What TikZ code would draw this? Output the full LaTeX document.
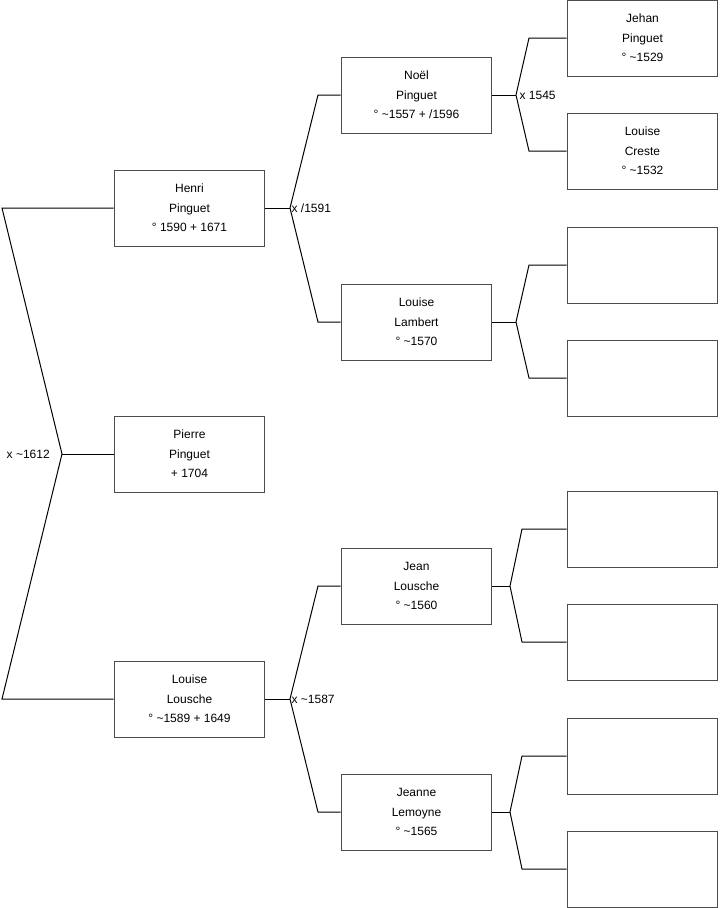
\documentclass[tikz,border=0pt]{standalone}
\usepackage{fontspec}
\setmainfont{Liberation Sans}
\usetikzlibrary{positioning}
\newcommand{\ca}{\textasciitilde}

\begin{document}
\begin{tikzpicture}[
  x=0.75pt, y=-0.75pt,
  person/.style={draw=black!70, line width=0.75pt, minimum width=113pt, minimum height=57pt,
                 inner sep=0pt, align=center, font=\fontsize{9}{14.5}\selectfont},
  lnk/.style={line width=0.75pt, black},
  mar/.style={font=\fontsize{9}{11}\selectfont, inner sep=1pt},
]
\useasboundingbox (0,0) rectangle (719,908);

% Column 1: Generation 0/1
\node[person] (henri)  at (189.5,208) {Henri\\Pinguet\\° 1590 + 1671};
\node[person] (pierre) at (189.5,454) {Pierre\\Pinguet\\+ 1704};
\node[person] (louise) at (189.5,699) {Louise\\Lousche\\° \ca1589 + 1649};

% Column 2: Grandparents
\node[person] (noel)    at (416.5,95)  {Noël\\Pinguet\\° \ca1557 + /1596};
\node[person] (lambert) at (416.5,322) {Louise\\Lambert\\° \ca1570};
\node[person] (jean)    at (416.5,586) {Jean\\Lousche\\° \ca1560};
\node[person] (jeanne)  at (416.5,812) {Jeanne\\Lemoyne\\° \ca1565};

% Column 3: Great-grandparents
\node[person] (jehan)  at (642.5,38)  {Jehan\\Pinguet\\° \ca1529};
\node[person] (creste) at (642.5,151) {Louise\\Creste\\° \ca1532};
\node[person] (g3)     at (642.5,265) {};
\node[person] (g4)     at (642.5,378) {};
\node[person] (g5)     at (642.5,529) {};
\node[person] (g6)     at (642.5,642) {};
\node[person] (g7)     at (642.5,756) {};
\node[person] (g8)     at (642.5,869) {};

% Forks
\coordinate (f0) at (62,454);  \coordinate (f0a) at (2,208);   \coordinate (f0b) at (2,699);
\coordinate (f1) at (290,208); \coordinate (f1a) at (318,95);  \coordinate (f1b) at (318,322);
\coordinate (f2) at (290,699); \coordinate (f2a) at (318,586); \coordinate (f2b) at (318,812);
\coordinate (f3) at (516,95);  \coordinate (f3a) at (529,38);  \coordinate (f3b) at (529,151);
\coordinate (f4) at (516,322); \coordinate (f4a) at (529,265); \coordinate (f4b) at (529,378);
\coordinate (f5) at (510,586); \coordinate (f5a) at (522,529); \coordinate (f5b) at (522,642);
\coordinate (f6) at (510,812); \coordinate (f6a) at (522,756); \coordinate (f6b) at (522,869);

% Links
\draw[lnk] (henri.west) -- (f0a) -- (f0) -- (f0b) -- (louise.west);
\draw[lnk] (f0) -- (pierre.west);
\draw[lnk] (henri.east) -- (f1);
\draw[lnk] (noel.west) -- (f1a) -- (f1) -- (f1b) -- (lambert.west);
\draw[lnk] (louise.east) -- (f2);
\draw[lnk] (jean.west) -- (f2a) -- (f2) -- (f2b) -- (jeanne.west);
\draw[lnk] (noel.east) -- (f3);
\draw[lnk] (jehan.west) -- (f3a) -- (f3) -- (f3b) -- (creste.west);
\draw[lnk] (lambert.east) -- (f4);
\draw[lnk] (g3.west) -- (f4a) -- (f4) -- (f4b) -- (g4.west);
\draw[lnk] (jean.east) -- (f5);
\draw[lnk] (g5.west) -- (f5a) -- (f5) -- (f5b) -- (g6.west);
\draw[lnk] (jeanne.east) -- (f6);
\draw[lnk] (g7.west) -- (f6a) -- (f6) -- (f6b) -- (g8.west);

% Marriages
\node[mar, left=8pt of f0] (m0) {x \ca1612};
\node[mar, right=0pt of f1] (m1) {x /1591};
\node[mar, right=0pt of f2] (m2) {x \ca1587};
\node[mar, right=1.5pt of f3] (m3) {x 1545};

\end{tikzpicture}
\end{document}
